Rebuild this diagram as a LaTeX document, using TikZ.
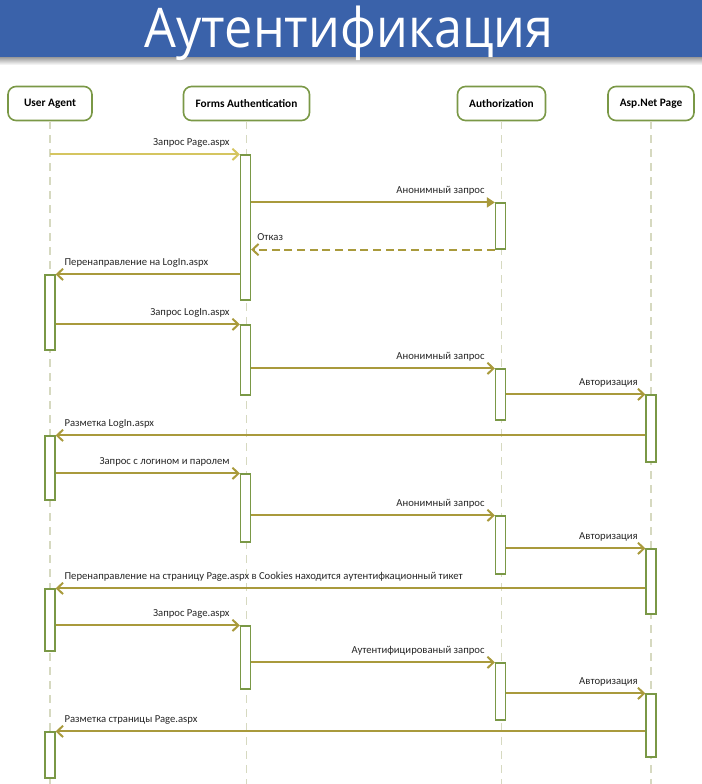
\documentclass[tikz,border=0pt]{standalone}
\usepackage{fontspec}
\setmainfont{Carlito}
\newfontfamily\titlefont{Open Sans}
\usetikzlibrary{arrows.meta,fit}
\definecolor{barblue}{HTML}{3A62AA}
\definecolor{actgreen}{HTML}{7A9846}
\definecolor{msgolive}{HTML}{A99A3C}
\definecolor{msglight}{HTML}{D5C560}
\definecolor{lifegray}{HTML}{D6D9C0}
\tikzset{
  head/.style={draw=actgreen, line width=1.2pt, rounded corners=6pt, fill=white,
    minimum height=25.5pt, inner sep=0pt, font=\bfseries\fontsize{8.5}{9}\selectfont},
  life/.style={draw=lifegray, line width=1.2pt, dash pattern=on 6pt off 4.5pt},
  act/.style={draw=actgreen, line width=0.9pt, fill=white, inner sep=0pt},
  msg/.style={draw=msgolive, line width=1.5pt, -{Straight Barb[length=4.5pt,width=8.5pt]}},
  msgfill/.style={draw=msgolive, line width=1.5pt, -{Triangle[length=6pt,width=7.5pt]}},
  lbl/.style={font=\fontsize{8}{9}\selectfont, inner sep=0pt, text=black!85},
}
\begin{document}
\begin{tikzpicture}[x=0.75pt,y=-0.75pt]
\useasboundingbox (0,0) rectangle (702,784);
% title bar
\fill[barblue] (0,0) rectangle (702,58);
\shade[top color=black!35, bottom color=white] (0,58) rectangle (702,65);
\node[anchor=base, text=white, inner sep=0pt, font=\titlefont\fontsize{41}{46}\selectfont, xscale=0.92] (title) at (349,48) {Аутентификация};
% heads
\node[head, minimum width=63pt] (ua) at (50,103.5) {User Agent};
\node[head, minimum width=94.5pt] (fa) at (246.5,103.5) {Forms Authentication};
\node[head, minimum width=66pt] (az) at (501.5,103.5) {Authorization};
\node[head, minimum width=64.5pt] (ap) at (651,103.5) {Asp.Net Page};
\coordinate (bot) at (0,784);
% lifelines
\draw[life] (ua.south) -- (ua.south |- bot);
\draw[life] (fa.south) -- (fa.south |- bot);
\draw[life] (az.south) -- (az.south |- bot);
\draw[life] (ap.south) -- (ap.south |- bot);
% activations
\node[act, fit={(45,275) (55,350)}] (u1) {};
\node[act, fit={(45,436) (55,500)}] (u2) {};
\node[act, fit={(45,589) (55,651)}] (u3) {};
\node[act, fit={(45,732) (55,778)}] (u4) {};
\node[act, fit={(240.5,155) (250.5,300)}] (f1) {};
\node[act, fit={(240.5,325) (250.5,395)}] (f2) {};
\node[act, fit={(240.5,474) (250.5,542)}] (f3) {};
\node[act, fit={(240.5,626) (250.5,689)}] (f4) {};
\node[act, fit={(495.5,203) (505.5,249)}] (a1) {};
\node[act, fit={(495.5,369) (505.5,420)}] (a2) {};
\node[act, fit={(495.5,516) (505.5,574)}] (a3) {};
\node[act, fit={(495.5,663) (505.5,720)}] (a4) {};
\node[act, fit={(646,395) (656,462)}] (p1) {};
\node[act, fit={(646,549) (656,614)}] (p2) {};
\node[act, fit={(646,694) (656,757)}] (p3) {};
% messages
\draw[msg, draw=msglight] (ua.south |- f1.north) -- (f1.north west)
  node[lbl, anchor=base east, pos=1, xshift=-7pt, yshift=7pt] {Запрос Page.aspx};
\draw[msgfill] (f1.east |- a1.north) -- (a1.north west)
  node[lbl, anchor=base east, pos=1, xshift=-7pt, yshift=7pt] {Анонимный запрос};
\draw[msg, dashed, dash pattern=on 6pt off 3.5pt] (a1.south west) -- (f1.east |- a1.south)
  node[lbl, anchor=base west, pos=1, xshift=4pt, yshift=7pt] {Отказ};
\draw[msg] (f1.west |- u1.north) -- (u1.north east)
  node[lbl, anchor=base west, pos=1, xshift=6pt, yshift=7pt] {Перенаправление на LogIn.aspx};
\draw[msg] (u1.east |- f2.north) -- (f2.north west)
  node[lbl, anchor=base east, pos=1, xshift=-7pt, yshift=7pt] {Запрос LogIn.aspx};
\draw[msg] (f2.east |- a2.north) -- (a2.north west)
  node[lbl, anchor=base east, pos=1, xshift=-7pt, yshift=7pt] {Анонимный запрос};
\draw[msg] (a2.east |- p1.north) -- (p1.north west)
  node[lbl, anchor=base east, pos=1, xshift=-5pt, yshift=7pt] {Авторизация};
\draw[msg] (p1.west |- u2.north) -- (u2.north east)
  node[lbl, anchor=base west, pos=1, xshift=6pt, yshift=7pt] {Разметка LogIn.aspx};
\draw[msg] (u2.east |- f3.north) -- (f3.north west)
  node[lbl, anchor=base east, pos=1, xshift=-7pt, yshift=7pt] {Запрос с логином и паролем};
\draw[msg] (f3.east |- a3.north) -- (a3.north west)
  node[lbl, anchor=base east, pos=1, xshift=-7pt, yshift=7pt] {Анонимный запрос};
\draw[msg] (a3.east |- p2.north) -- (p2.north west)
  node[lbl, anchor=base east, pos=1, xshift=-5pt, yshift=7pt] {Авторизация};
\draw[msg] (p2.west |- u3.north) -- (u3.north east)
  node[lbl, anchor=base west, pos=1, xshift=6pt, yshift=7pt] {Перенаправление на страницу Page.aspx в Cookies находится аутентифкационный тикет};
\draw[msg] (u3.east |- f4.north) -- (f4.north west)
  node[lbl, anchor=base east, pos=1, xshift=-7pt, yshift=7pt] {Запрос Page.aspx};
\draw[msg] (f4.east |- a4.north) -- (a4.north west)
  node[lbl, anchor=base east, pos=1, xshift=-7pt, yshift=7pt] {Аутентифицированый запрос};
\draw[msg] (a4.east |- p3.north) -- (p3.north west)
  node[lbl, anchor=base east, pos=1, xshift=-5pt, yshift=7pt] {Авторизация};
\draw[msg] (p3.west |- u4.north) -- (u4.north east)
  node[lbl, anchor=base west, pos=1, xshift=6pt, yshift=7pt] {Разметка страницы Page.aspx};
\end{tikzpicture}
\end{document}
